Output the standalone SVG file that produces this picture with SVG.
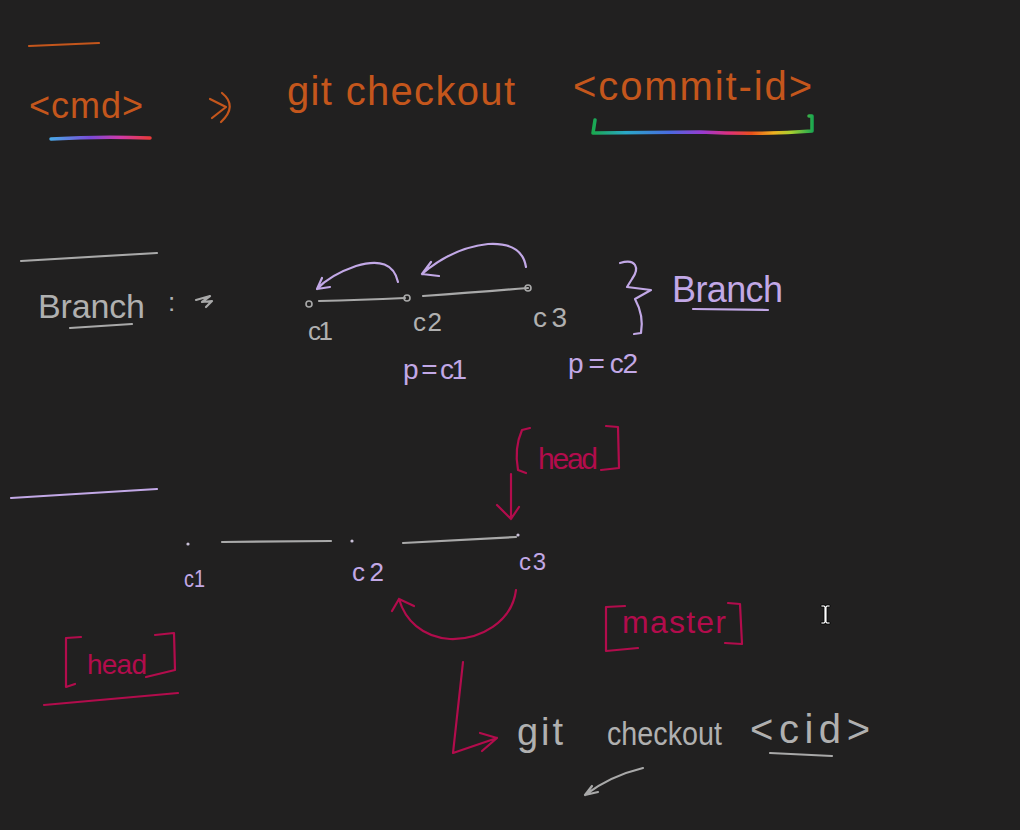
<svg xmlns="http://www.w3.org/2000/svg" width="1020" height="830" viewBox="0 0 1020 830">
<defs>
<linearGradient id="rb1" x1="0" y1="0" x2="1" y2="0">
<stop offset="0" stop-color="#4aa8e8"/><stop offset="0.4" stop-color="#7a4ad8"/><stop offset="0.7" stop-color="#d03aa8"/><stop offset="1" stop-color="#e83a3a"/>
</linearGradient>
<linearGradient id="rb2" gradientUnits="userSpaceOnUse" x1="593" y1="0" x2="813" y2="0">
<stop offset="0" stop-color="#1aa850"/><stop offset="0.15" stop-color="#2aa8c8"/><stop offset="0.35" stop-color="#4a6ae0"/><stop offset="0.5" stop-color="#9a3ad0"/><stop offset="0.62" stop-color="#e0307a"/><stop offset="0.72" stop-color="#e8501a"/><stop offset="0.82" stop-color="#f0b020"/><stop offset="0.9" stop-color="#a8d030"/><stop offset="1" stop-color="#1aa850"/>
</linearGradient>
<style>
.s{fill:none;stroke-linecap:round;stroke-linejoin:round;stroke-width:2.2}
.or{stroke:#c4561c}
.gy{stroke:#a9a9a9}
.lv{stroke:#c2a8e6}
.cr{stroke:#b20c4c}
.t{font-family:"Liberation Sans",Arial,sans-serif;font-weight:normal}
.tor{fill:#c4561c}
.tgy{fill:#b0b0b0}
.tlv{fill:#c2a8e6}
.tcr{fill:#b20c4c}
</style>
</defs>
<rect width="1020" height="830" fill="#212020"/>

<!-- Section 1 -->
<g id="sec1">
<path class="s or" d="M29,46 L99,43"/>
<text class="t tor" x="29" y="118" font-size="36" textLength="114" lengthAdjust="spacing">&lt;cmd&gt;</text>
<path d="M51,139 Q100,136 150,138" fill="none" stroke="url(#rb1)" stroke-width="3.5" stroke-linecap="round"/>
<path class="s or" d="M210,99 L226,107 L212,118 M222,93 Q238,106 221,122"/>
<text class="t tor" x="287" y="105" font-size="40" textLength="228" lengthAdjust="spacing">git checkout</text>
<text class="t tor" x="573" y="100" font-size="40" textLength="239" lengthAdjust="spacing">&lt;commit-id&gt;</text>
<path d="M595,120 L593,133 L700,132 Q760,135 812,131 L812,116 L809,116" fill="none" stroke="url(#rb2)" stroke-width="3.5" stroke-linecap="round" stroke-linejoin="round"/>
</g>

<!-- Section 2 -->
<g id="sec2-title">
<path class="s gy" d="M21,261 L157,253"/>
<text class="t tgy" x="38" y="318" font-size="34" textLength="107" lengthAdjust="spacing">Branch</text>
<text class="t tgy" x="168" y="311" font-size="26">:</text>
<path class="s gy" d="M196,300 L210,296 L202,302 L212,301 L206,307"/>
<path class="s gy" d="M70,328 L132,324"/>
</g>
<g id="connectors">
<path class="s gy" d="M319,301 Q360,300 405,298"/>
<path class="s gy" d="M423,296 Q480,292 528,288"/>
<path class="s lv" d="M398,282 Q392,255 356,266 Q330,275 317,289 M317,289 L330,287 M317,289 L322,278"/>
<path class="s lv" d="M526,267 Q522,242 488,244 Q452,248 422,274 M422,274 L439,276 M422,274 L431,262"/>
<path class="s gy" d="M222,542 L331,541"/>
<path class="s gy" d="M403,543 L516,537"/>
<path class="s cr" d="M511,474 L511,519 M511,519 L497,505 M511,519 L519,507"/>
<path class="s cr" d="M516,590 C512,622 480,640 450,639 C422,637 405,620 399,599 M399,599 L392,611 M399,599 L414,606"/>
<path class="s cr" d="M463,662 L453,753 L497,738 M497,738 L480,733 M497,738 L482,751"/>
<path class="s gy" d="M643,768 Q610,776 585,795 M585,795 L598,792 M585,795 L592,786"/>
<path class="s cr" d="M44,705 L178,693"/>
</g>
<g id="n-c1"><circle cx="309" cy="304" r="3" fill="none" stroke="#a9a9a9" stroke-width="1.6"/><text class="t tgy" x="308" y="340" font-size="26" textLength="25" lengthAdjust="spacing">c1</text></g>
<g id="n-c2"><circle cx="407" cy="298" r="3" fill="none" stroke="#a9a9a9" stroke-width="1.6"/><text class="t tgy" x="413" y="331" font-size="26" textLength="29" lengthAdjust="spacing">c2</text></g>
<g id="n-c3"><circle cx="528" cy="288" r="3" fill="none" stroke="#a9a9a9" stroke-width="1.6"/><text class="t tgy" x="533" y="327" font-size="28" textLength="34" lengthAdjust="spacing">c3</text></g>
<g id="branch-brace">
<path class="s lv" d="M620,263 C636,258 640,268 632,279 L627,287 L651,290 L635,299 C641,310 643,322 641,333 L634,334"/>
<text class="t tlv" x="672" y="302" font-size="36" textLength="111" lengthAdjust="spacing">Branch</text>
<path class="s lv" d="M693,309 L768,310"/>
</g>
<g id="p-c1"><text class="t tlv" x="403" y="379" font-size="28" textLength="64" lengthAdjust="spacing">p = c1</text></g>
<g id="p-c2"><text class="t tlv" x="568" y="373" font-size="28" textLength="70" lengthAdjust="spacing">p = c2</text></g>

<!-- Section 3 -->
<g id="sec3-rule"><path class="s lv" d="M11,498 L157,489"/></g>
<g id="m-c1"><circle cx="188" cy="544" r="1.6" fill="#c9c0d8"/><text class="t tlv" x="184" y="587" font-size="24" textLength="21" lengthAdjust="spacingAndGlyphs">c1</text></g>
<g id="m-c2"><circle cx="352" cy="541" r="1.6" fill="#c9c0d8"/><text class="t tlv" x="352" y="581" font-size="26" textLength="32" lengthAdjust="spacing">c2</text></g>
<g id="m-c3"><circle cx="518" cy="535" r="1.6" fill="#c9c0d8"/><text class="t tlv" x="519" y="570" font-size="24" textLength="27" lengthAdjust="spacing">c3</text></g>
<g id="head-top">
<path class="s cr" d="M530,428 L522,430 Q514,448 518,470 L526,473"/>
<text class="t tcr" x="538" y="469" font-size="30" textLength="60" lengthAdjust="spacing">head</text>
<path class="s cr" d="M606,426 L618,427 L619,468 L601,470"/>
</g>
<g id="master">
<path class="s cr" d="M625,606 L606,607 L606,651 L638,648"/>
<text class="t tcr" x="622" y="633" font-size="32" textLength="104" lengthAdjust="spacing">master</text>
<path class="s cr" d="M728,603 L740,604 L742,644 L725,643"/>
</g>
<g id="head-left">
<path class="s cr" d="M81,637 L66,638 L66,687 L75,684"/>
<text class="t tcr" x="87" y="674" font-size="28" textLength="60" lengthAdjust="spacing">head</text>
<path class="s cr" d="M155,635 L174,633 L175,670 L146,677"/>
</g>
<g id="cmd2">
<text class="t tgy" x="517" y="745" font-size="38" textLength="46" lengthAdjust="spacing">git</text>
<text class="t tgy" x="607" y="745" font-size="34" textLength="115" lengthAdjust="spacingAndGlyphs">checkout</text>
<text class="t tgy" x="750" y="743" font-size="40" textLength="120" lengthAdjust="spacing">&lt;cid&gt;</text>
<path class="s gy" d="M770,753 L832,756"/>
</g>
<g id="cursor">
<path d="M821,605 h4 v1 h1 v-1 h4 v2 h-3 v15 h3 v2 h-4 v-1 h-1 v1 h-4 v-2 h3 v-15 h-3 z" fill="#ffffff" stroke="#000000" stroke-width="0.8"/>
</g>
</svg>
